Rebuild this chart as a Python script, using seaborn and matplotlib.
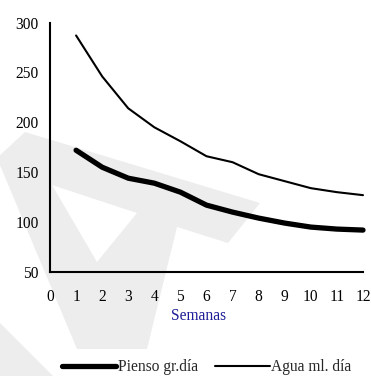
import matplotlib
matplotlib.use("Agg")
import matplotlib.pyplot as plt
from matplotlib.path import Path
from matplotlib.patches import PathPatch
from matplotlib.lines import Line2D
import pandas as pd
import seaborn as sns

# Weekly consumption per animal
semanas = [1, 2, 3, 4, 5, 6, 7, 8, 9, 10, 11, 12]
pienso = [172, 155, 144, 139, 130, 117, 110, 104, 99, 95, 93, 92]
agua = [287, 246, 214, 195, 181, 166, 160, 148, 141, 134, 130, 127]
serie_pienso = "Pienso gr.día"
serie_agua = "Agua ml. día"
x_ticks = list(range(0, 13))
y_ticks = [50, 100, 150, 200, 250, 300]

FS = 11.2
sns.set_theme(style="white")
plt.rcParams["font.family"] = ["Liberation Serif", "DejaVu Serif"]
plt.rcParams["font.size"] = FS

W, H = 371, 376
fig = plt.figure(figsize=(W / 100, H / 100), dpi=100, facecolor="white")


def px(x, y):
    return (x / W, 1 - y / H)


# light background emblem
outer = [(25, 132), (260, 203), (228, 243), (177, 227), (147, 349), (77, 349), (-3, 158)]
hole = [(52, 185), (97, 262), (137, 213)]
corner = [(0, 323), (62, 385), (0, 385)]
verts, codes = [], []
for poly in (outer, hole, corner):
    pts = [px(*p) for p in poly]
    verts += pts + [pts[0]]
    codes += [Path.MOVETO] + [Path.LINETO] * (len(pts) - 1) + [Path.CLOSEPOLY]
fig.add_artist(PathPatch(Path(verts, codes), transform=fig.transFigure,
                         facecolor="#ededed", edgecolor="none", zorder=-10))

ax = fig.add_axes([50 / W, 1 - 272 / H, 313 / W, 249.5 / H])
ax.set_facecolor("none")

df = pd.DataFrame({
    "Semana": semanas + semanas,
    "valor": pienso + agua,
    "serie": [serie_pienso] * len(semanas) + [serie_agua] * len(semanas),
})
sns.lineplot(data=df, x="Semana", y="valor", hue="serie", size="serie",
             palette={serie_pienso: "black", serie_agua: "black"},
             sizes={serie_pienso: 3.8, serie_agua: 1.5},
             legend=False, ax=ax, clip_on=False,
             solid_capstyle="round", solid_joinstyle="round")

ax.set_xlim(0, 12)
ax.set_ylim(50, 300)
ax.set_xticks(x_ticks)
ax.set_yticks(y_ticks)
for side in ("top", "right"):
    ax.spines[side].set_visible(False)
for side in ("left", "bottom"):
    ax.spines[side].set_color("black")
    ax.spines[side].set_linewidth(1.5)
ax.tick_params(axis="both", direction="out", length=4.5, width=1.5,
               color="black", labelcolor="black", labelsize=FS)
ax.tick_params(axis="x", pad=7.5)
ax.tick_params(axis="y", pad=3.5)

ax.set_ylabel("")
ax.set_xlabel("Semanas", color="#1c1c96", fontsize=FS)
ax.xaxis.label.set_va("center")
ax.xaxis.set_label_coords((199 - 50) / 313, (272 - 316) / 249.5)

handles = [Line2D([], [], color="black", lw=3.8, solid_capstyle="round"),
           Line2D([], [], color="black", lw=1.5)]
fig.legend(handles, [serie_pienso, serie_agua], ncol=2, frameon=False,
           loc="center left", bbox_to_anchor=px(62, 367),
           handlelength=3.5, handletextpad=0.1, columnspacing=1.1,
           borderpad=0, borderaxespad=0, fontsize=FS)

fig.savefig("out.png", dpi=100, facecolor="white")
